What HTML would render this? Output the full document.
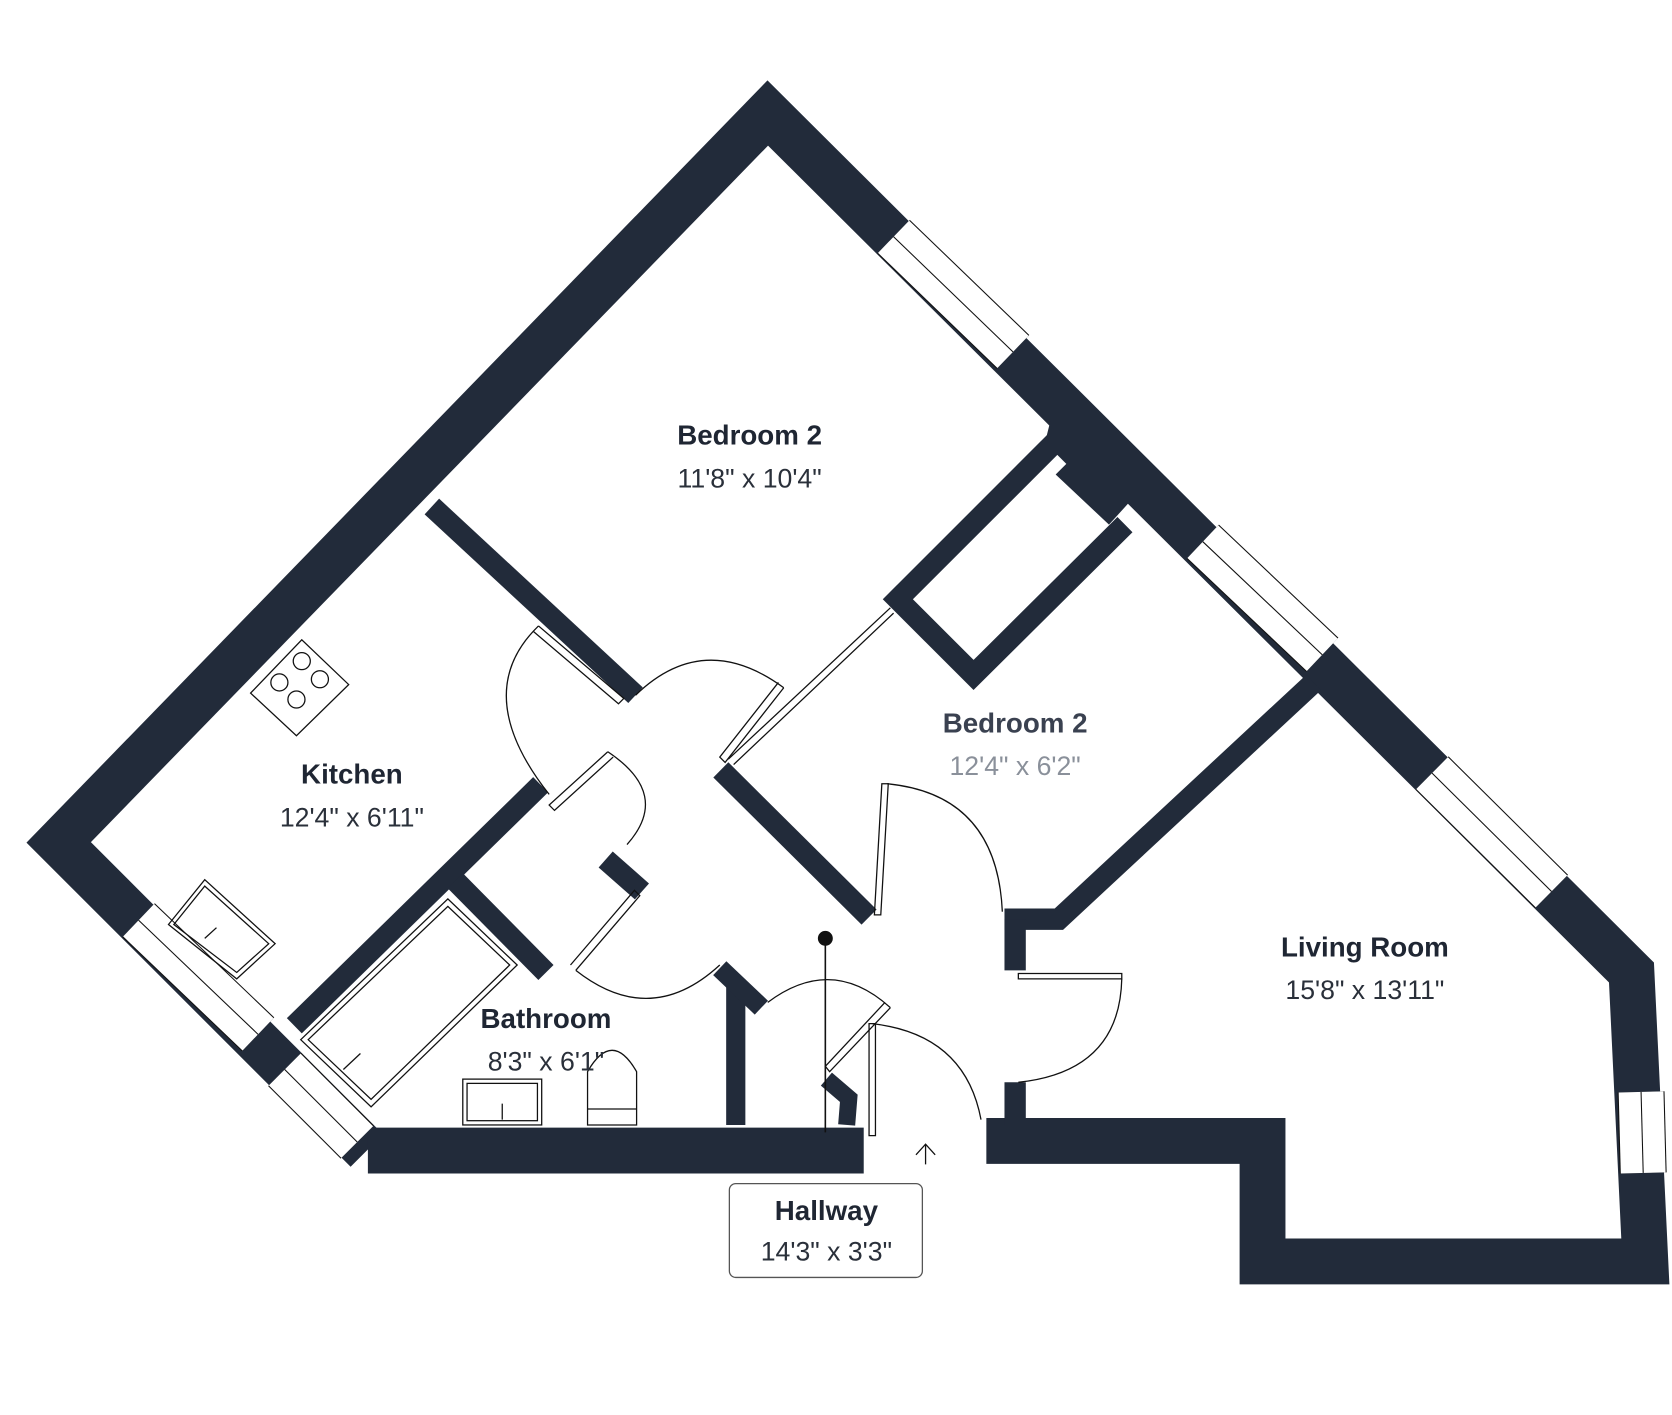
<!DOCTYPE html>
<html><head><meta charset="utf-8"><style>
html,body{margin:0;padding:0;background:#fff;width:1672px;height:1415px;overflow:hidden}
svg{display:block}
text{font-family:"Liberation Sans","DejaVu Sans",sans-serif;fill:#1f2633;text-anchor:middle}
.b{font-weight:bold;font-size:26px}
.l{font-size:25px;fill:#2a303a}
</style></head><body>
<svg width="1672" height="1415" viewBox="0 0 1568 1327" xmlns="http://www.w3.org/2000/svg">
<g fill="none" stroke="#222b3a" stroke-linejoin="miter" stroke-linecap="butt">
<path d="M344,1079 L55,790 L720,106 L1530,912 L1543,1183 L1184,1183 L1184,1070 L925,1070" stroke-width="43"/>
<path d="M345,1079 L810,1079" stroke-width="43"/>
<path d="M405,475 L596,652" stroke-width="20"/>
<path d="M676,722 L815,860" stroke-width="20"/>
<path d="M1232,640 L993,862 L942,862" stroke-width="20"/>
<path d="M952,862 L952,910" stroke-width="20"/>
<path d="M952,1015 L952,1055" stroke-width="20"/>
<path d="M507,736 L276,962" stroke-width="20"/>
<path d="M427,826 L512,912" stroke-width="20"/>
<path d="M568,806 L602,836" stroke-width="20"/>
<path d="M690,920 L690,1055" stroke-width="18"/>
<path d="M675,908 L714,945" stroke-width="18"/>
<path d="M775,1012 L796,1030 L794,1055" stroke-width="16"/>
<path d="M992,412 L842,562 L913,633 L1055,492" stroke-width="20"/>
</g>
<polygon points="985,395 1060,470 1040,492 990,445 1000,435 980,415" fill="#222b3a"/>
<g stroke-linecap="butt">
<path d="M838,222 L950,330" stroke="#111" stroke-width="44"/><path d="M838,222 L950,330" stroke="#fff" stroke-width="42"/><path d="M838,222 L950,330" stroke="#111" stroke-width="1"/>
<path d="M1128,508 L1240,614" stroke="#111" stroke-width="44"/><path d="M1128,508 L1240,614" stroke="#fff" stroke-width="42"/><path d="M1128,508 L1240,614" stroke="#111" stroke-width="1"/>
<path d="M1343,725 L1455,836" stroke="#111" stroke-width="44"/><path d="M1343,725 L1455,836" stroke="#fff" stroke-width="42"/><path d="M1343,725 L1455,836" stroke="#111" stroke-width="1"/>
<path d="M130,863 L242,970" stroke="#111" stroke-width="44"/><path d="M130,863 L242,970" stroke="#fff" stroke-width="42"/><path d="M130,863 L242,970" stroke="#111" stroke-width="1"/>
<path d="M267,1003 L335,1071" stroke="#111" stroke-width="44"/><path d="M267,1003 L335,1071" stroke="#fff" stroke-width="42"/><path d="M267,1003 L335,1071" stroke="#111" stroke-width="1"/>
<path d="M1539,1024 L1541,1100" stroke="#111" stroke-width="44"/><path d="M1539,1024 L1541,1100" stroke="#fff" stroke-width="42"/><path d="M1539,1024 L1541,1100" stroke="#111" stroke-width="1"/>
</g>
<g fill="none" stroke="#111" stroke-width="1.2">
<path d="M505,587 Q440,650 515,745"/>
<path d="M505,587 L585,655 L580,660 L500,592"/>
<path d="M596,652 Q660,590 735,645"/>
<path d="M735,645 L680,715 L675,710 L730,640"/>
<path d="M570,705 Q630,745 588,792"/>
<path d="M570,705 L515,755 L520,760 L575,710"/>
<path d="M540,910 Q610,965 675,905"/>
<path d="M540,910 L600,840 L595,835 L535,905"/>
<path d="M720,940 Q780,895 835,945"/>
<path d="M835,945 L778,1005 L774,1000 L830,940"/>
<path d="M818,960 Q905,970 920,1050"/>
<path d="M815,960 L815,1065 L821,1065 L821,960 Z"/>
<path d="M832,735 Q935,745 940,855"/>
<path d="M827,735 L820,858 L826,858 L833,735 Z"/>
<path d="M955,913 L1052,913 L1052,918 L955,918 Z"/>
<path d="M1052,918 Q1050,1005 955,1015"/>
<path d="M683,712 L835,570 M688,717 L838,575"/>
<path d="M235,650 L283,600 L327,642 L278,690 Z"/>
<circle cx="283" cy="620" r="8"/><circle cx="300" cy="637" r="8"/><circle cx="262" cy="640" r="8"/><circle cx="278" cy="656" r="8"/>
<path d="M158,867 L192,825 L258,885 L222,918 Z"/><path d="M163,867 L192,831 L252,885 L222,912 Z"/><path d="M192,880 L203,870"/>
<path d="M282,975 L420,843 L485,905 L348,1038 Z"/><path d="M289,975 L420,850 L478,905 L348,1031 Z"/><path d="M322,1003 L338,988"/>
<rect x="434" y="1012" width="74" height="43"/><rect x="438" y="1016" width="66" height="35"/><path d="M471,1035 L471,1050"/>
<path d="M551,1055 L551,1005 Q574,965 597,1005 L597,1055 Z"/><path d="M551,1040 L597,1040"/>
</g>
<circle cx="774" cy="880" r="7" fill="#111"/>
<line x1="774" y1="880" x2="774" y2="1062" stroke="#111" stroke-width="1.5"/>
<path d="M868,1092 L868,1073 M859,1083 L868,1073 L877,1083" fill="none" stroke="#111" stroke-width="1.2"/>
<rect x="684" y="1110" width="181" height="88" rx="6" fill="#fff" stroke="#555" stroke-width="1.2"/>
<text class="b" x="703" y="417">Bedroom 2</text>
<text class="l" x="703" y="457">11'8" x 10'4"</text>
<text class="b" x="330" y="735">Kitchen</text>
<text class="l" x="330" y="775">12'4" x 6'11"</text>
<text class="b" x="952" y="687" style="fill:#3a4150">Bedroom 2</text>
<text class="l" x="952" y="727" style="fill:#8a909a">12'4" x 6'2"</text>
<text class="b" x="1280" y="897">Living Room</text>
<text class="l" x="1280" y="937">15'8" x 13'11"</text>
<text class="b" x="512" y="964">Bathroom</text>
<text class="l" x="512" y="1004">8'3" x 6'1"</text>
<text class="b" x="775" y="1144">Hallway</text>
<text class="l" x="775" y="1182">14'3" x 3'3"</text>
</svg>
</body></html>
